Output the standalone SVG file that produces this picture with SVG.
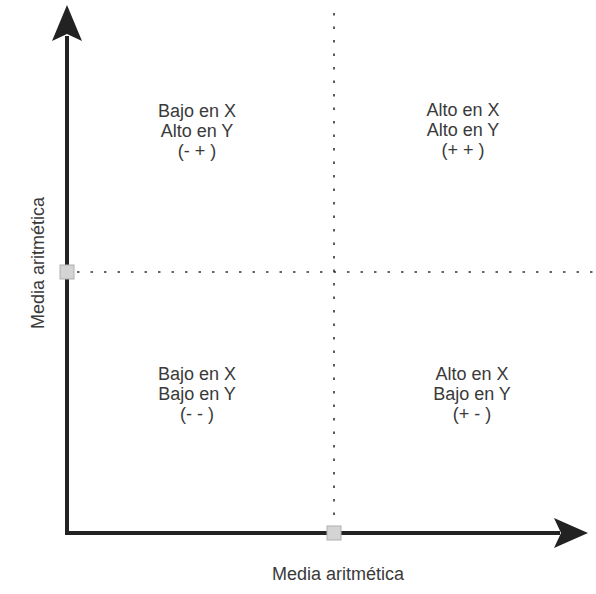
<svg xmlns="http://www.w3.org/2000/svg" width="596" height="594" viewBox="0 0 596 594">
<style>
.axis{stroke:#222;stroke-width:4;fill:none;stroke-linejoin:miter;stroke-linecap:butt}
.head{fill:#222}
.dot{stroke:#333;stroke-width:1.6;stroke-dasharray:2.5 11;fill:none}
.sq{fill:#d4d4d4;stroke:#b0b0b0;stroke-width:1}
.t{font-family:"Liberation Sans",Arial,sans-serif;font-size:18px;fill:#3a3a3a;text-anchor:middle}
</style>
<rect width="596" height="594" fill="#fff"/>
<g id="connectors">
<line class="dot" x1="334" y1="13" x2="334" y2="526"/>
<line class="dot" x1="77" y1="272" x2="596" y2="272"/>
<polyline class="axis" points="67,36 67,533 560,533"/>
<polygon class="head" points="67,5 82,41 67,34 52,41"/>
<polygon class="head" points="588,533 554,548 561,533 554,518"/>
</g>
<g id="origin-y"><rect class="sq" x="60" y="265" width="14" height="14"/></g>
<g id="origin-x"><rect class="sq" x="327" y="526" width="14" height="14"/></g>
<g id="q-top-left">
<text class="t" x="197" y="117">Bajo en X</text>
<text class="t" x="197" y="137">Alto en Y</text>
<text class="t" x="197" y="157">(- + )</text>
</g>
<g id="q-top-right">
<text class="t" x="463" y="116">Alto en X</text>
<text class="t" x="463" y="136">Alto en Y</text>
<text class="t" x="463" y="156">(+ + )</text>
</g>
<g id="q-bottom-left">
<text class="t" x="197" y="380">Bajo en X</text>
<text class="t" x="197" y="400">Bajo en Y</text>
<text class="t" x="197" y="420">(- - )</text>
</g>
<g id="q-bottom-right">
<text class="t" x="472" y="380">Alto en X</text>
<text class="t" x="472" y="400">Bajo en Y</text>
<text class="t" x="472" y="420">(+ - )</text>
</g>
<g id="x-label"><text class="t" x="338" y="580">Media aritmética</text></g>
<g id="y-label"><text class="t" transform="translate(44,263) rotate(-90)" x="0" y="0">Media aritmética</text></g>
</svg>
